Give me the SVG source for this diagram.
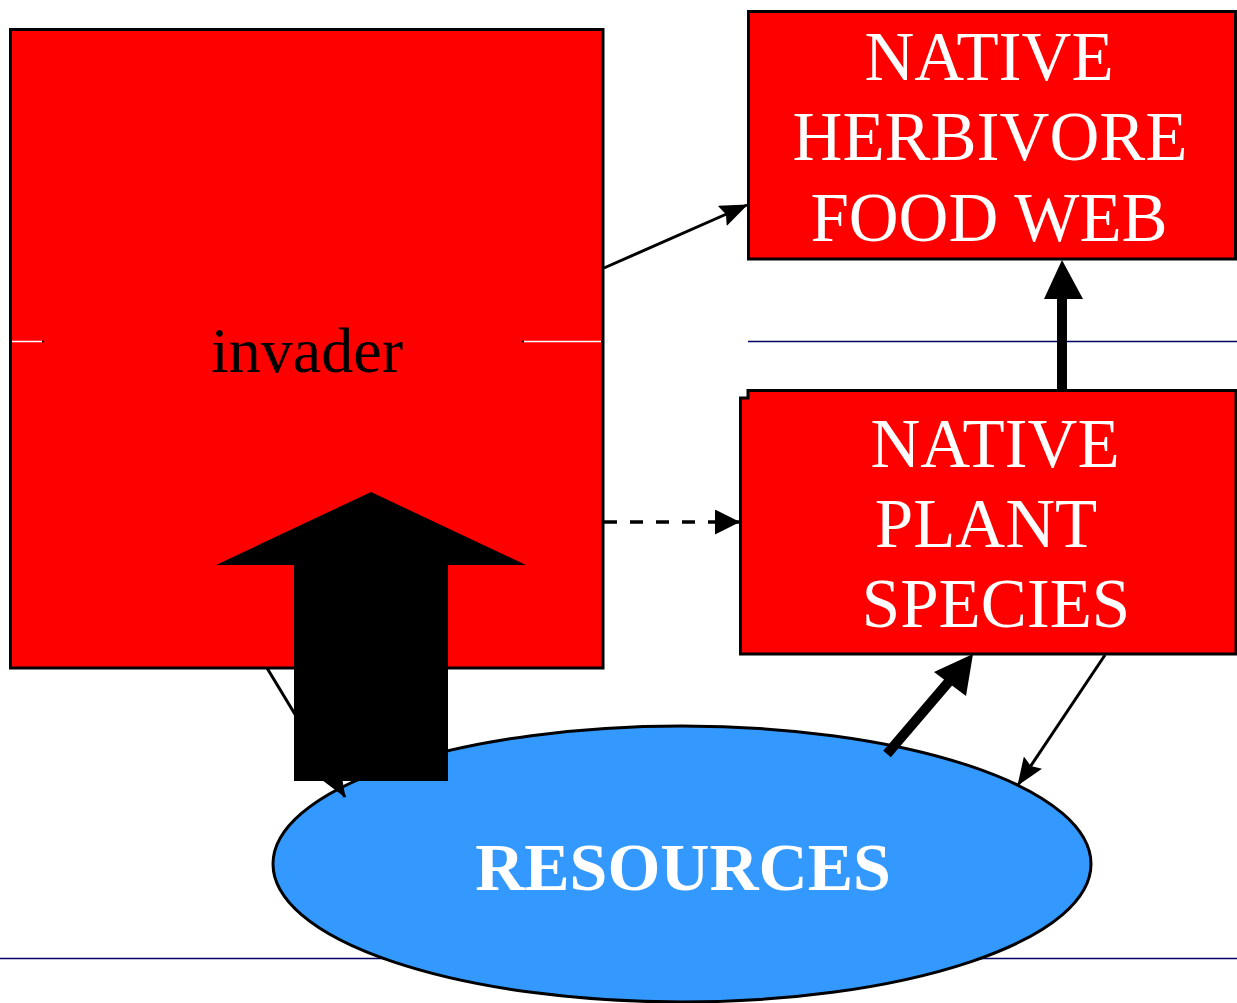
<svg xmlns="http://www.w3.org/2000/svg" width="1237" height="1003" viewBox="0 0 1237 1003">
  <defs>
    <style>
      .box { fill: #ff0000; stroke: #000; stroke-width: 3; }
      .lbl { font-family: "Liberation Serif", "Times New Roman", serif; fill: #fff; text-anchor: middle; }
      .rule { stroke: #000066; stroke-width: 1.5; }
      .thin { stroke: #000; stroke-width: 3; fill: none; }
    </style>
    <marker id="headL" markerWidth="28" markerHeight="22" refX="27" refY="11" orient="auto" markerUnits="userSpaceOnUse" viewBox="0 0 28 22">
      <path d="M0,0 L28,11 L0,22 L4,11 Z" fill="#000"/>
    </marker>
    <marker id="headD" markerWidth="25" markerHeight="25" refX="25" refY="12.5" orient="auto" markerUnits="userSpaceOnUse" viewBox="0 0 25 25">
      <path d="M0,0 L25,12.5 L0,25 Z" fill="#000"/>
    </marker>
  </defs>

  <rect width="1237" height="1003" fill="#fff"/>

  <!-- horizontal rules -->
  <line class="rule" x1="748" y1="341.5" x2="1237" y2="341.5"/>
  <line class="rule" x1="0" y1="958.5" x2="1237" y2="958.5"/>

  <!-- invader -->
  <g id="invader">
    <rect class="box" x="10.5" y="29.5" width="592.5" height="638.5"/>
    <line x1="12" y1="341.5" x2="42" y2="341.5" stroke="#fff" stroke-width="1.5"/>
    <line x1="42" y1="341.5" x2="44" y2="341.5" stroke="#000" stroke-width="1.5"/>
    <line x1="522" y1="341.5" x2="524" y2="341.5" stroke="#000" stroke-width="1.5"/>
    <line x1="524" y1="341.5" x2="601" y2="341.5" stroke="#fff" stroke-width="1.5"/>
    <text x="307" y="372" font-family="Liberation Serif, Times New Roman, serif" font-size="64" fill="#000" text-anchor="middle">invader</text>
  </g>

  <!-- native herbivore food web -->
  <g id="foodweb">
    <rect class="box" x="748.5" y="11.5" width="487" height="247.5"/>
    <text class="lbl" font-size="69"><tspan x="989" y="80">NATIVE</tspan><tspan x="990" y="160">HERBIVORE</tspan><tspan x="989" y="241">FOOD WEB</tspan></text>
  </g>

  <!-- native plant species -->
  <g id="plants">
    <path class="box" d="M748,390.5 H1236 V654 H740.5 V398 H748 Z"/>
    <text class="lbl" font-size="69"><tspan x="995" y="467">NATIVE</tspan><tspan x="986" y="547">PLANT</tspan><tspan x="996" y="627">SPECIES</tspan></text>
  </g>

  <!-- resources -->
  <g id="resources">
    <ellipse cx="682" cy="864" rx="409" ry="138" fill="#3399ff" stroke="#000" stroke-width="3"/>
    <text class="lbl" x="683" y="890" font-size="68" font-weight="bold">RESOURCES</text>
  </g>

  <!-- connectors -->
  <g id="connectors">
    <line class="thin" x1="267" y1="668" x2="345" y2="797" marker-end="url(#headL)"/>
    <line class="thin" x1="604" y1="268" x2="747" y2="205" marker-end="url(#headL)"/>
    <line x1="604" y1="522" x2="740" y2="522" stroke="#000" stroke-width="3.5" stroke-dasharray="13,13" marker-end="url(#headD)"/>
    <line class="thin" x1="1105" y1="655" x2="1018" y2="785" marker-end="url(#headL)"/>
    <!-- plant to food web -->
    <path d="M1057,390 V299 H1044 L1062,260 L1083,299 H1067 V390 Z" fill="#000"/>
    <!-- resources to plant -->
    <line x1="887" y1="754" x2="952" y2="678" stroke="#000" stroke-width="10"/>
    <path d="M973,654 L966,696 L934,672 Z" fill="#000"/>
    <!-- block arrow, resources to invader -->
    <path d="M294,781 V565 H216 L371,492 L526,565 H448 V781 Z" fill="#000"/>
  </g>
</svg>
